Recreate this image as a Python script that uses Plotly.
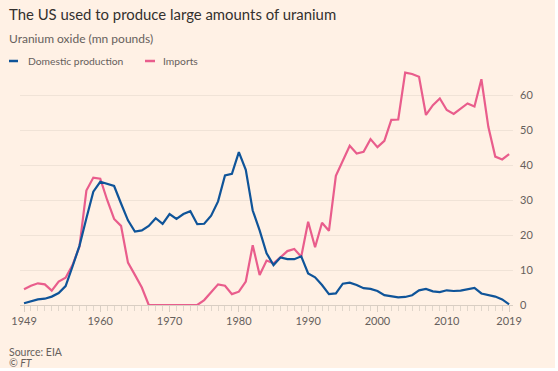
import plotly.graph_objects as go

years = list(range(1949, 2020))
domestic = [0.5, 1.0, 1.6, 1.8, 2.4, 3.4, 5.4, 11.0, 16.9, 24.8,
            32.4, 35.2, 34.7, 34.0, 29.0, 24.2, 21.0, 21.3, 22.6, 24.8,
            23.2, 26.0, 24.6, 26.0, 26.8, 23.1, 23.2, 25.5, 29.6, 37.0,
            37.5, 43.7, 38.6, 27.0, 21.3, 14.8, 11.4, 13.6, 13.1, 13.1,
            13.9, 9.0, 7.9, 5.7, 3.1, 3.3, 6.1, 6.4, 5.7, 4.8,
            4.6, 4.0, 2.8, 2.5, 2.2, 2.3, 2.8, 4.2, 4.6, 3.9,
            3.7, 4.2, 4.0, 4.1, 4.6, 4.9, 3.3, 2.9, 2.4, 1.6,
            0.2]
imports = [4.5, 5.5, 6.2, 5.9, 4.1, 6.7, 7.8, 11.4, 16.7, 32.7,
           36.4, 36.1, 30.0, 24.6, 22.6, 12.1, 8.6, 5.0, 0, 0,
           0, 0, 0, 0, 0, 0, 1.4, 3.8, 5.9, 5.5,
           3.1, 3.8, 6.7, 17.1, 8.6, 12.7, 11.9, 13.6, 15.4, 16.0,
           13.8, 23.8, 16.5, 23.5, 21.2, 36.9, 41.4, 45.5, 43.3, 43.8,
           47.4, 45.1, 46.9, 52.9, 53.0, 66.4, 66.0, 65.2, 54.3, 57.1,
           59.0, 55.7, 54.6, 56.2, 57.6, 56.7, 64.5, 50.9, 42.4, 41.6,
           43.1]
x_tickvals = [1949, 1960, 1970, 1980, 1990, 2000, 2010, 2019]
y_tickvals = [0, 10, 20, 30, 40, 50, 60]

BG = "#FFF1E5"
BLUE = "#0F5499"
PINK = "#E95D8C"
GREY = "#66605C"
FONT = "Lato"

W, H = 558, 371
L, R, T, B = 20, 45, 60, 66
pw, ph = W - L - R, H - T - B

def px(x):
    return (x - L) / pw

def py(y):
    return (H - B - y) / ph

fig = go.Figure()
fig.add_trace(go.Scatter(x=years, y=imports, mode="lines", name="Imports",
                         line=dict(color=PINK, width=2.2), showlegend=False))
fig.add_trace(go.Scatter(x=years, y=domestic, mode="lines", name="Domestic production",
                         line=dict(color=BLUE, width=2.2), showlegend=False))

annotations = [
    dict(text="The US used to produce large amounts of uranium", x=px(7), y=py(14),
         font=dict(size=14.9, color="#33302E", family=FONT)),
    dict(text="Uranium oxide (mn pounds)", x=px(7), y=py(38),
         font=dict(size=12, color=GREY, family=FONT)),
    dict(text="Domestic production", x=px(26), y=py(61),
         font=dict(size=10.3, color=GREY, family=FONT)),
    dict(text="Imports", x=px(161), y=py(61),
         font=dict(size=10.3, color=GREY, family=FONT)),
    dict(text="Source: EIA", x=px(7), y=py(352),
         font=dict(size=10.5, color=GREY, family=FONT)),
    dict(text="<i>© FT</i>", x=px(7), y=py(363),
         font=dict(size=10.5, color=GREY, family=FONT)),
]
for a in annotations:
    a.update(xref="paper", yref="paper", xanchor="left", yanchor="middle",
             showarrow=False)

shapes = [
    dict(type="line", xref="paper", yref="paper", x0=px(9), x1=px(18), y0=py(61), y1=py(61),
         line=dict(color=BLUE, width=2.5)),
    dict(type="line", xref="paper", yref="paper", x0=px(145), x1=px(155), y0=py(61), y1=py(61),
         line=dict(color=PINK, width=2.5)),
    dict(type="rect", xref="paper", yref="paper", x0=px(555), x1=px(560), y0=py(-2), y1=py(373),
         fillcolor="white", line=dict(width=0), layer="above"),
    dict(type="rect", xref="paper", yref="paper", x0=px(-2), x1=px(560), y0=py(368), y1=py(373),
         fillcolor="white", line=dict(width=0), layer="above"),
]

fig.update_layout(
    width=W, height=H,
    margin=dict(l=L, r=R, t=T, b=B, pad=0),
    paper_bgcolor=BG, plot_bgcolor=BG,
    font=dict(family=FONT, color=GREY, size=11),
    annotations=annotations, shapes=shapes,
    xaxis=dict(range=[1948.42, 2019.56], tickmode="array", tickvals=x_tickvals,
               ticktext=[str(v) for v in x_tickvals], showgrid=False, zeroline=False,
               showline=True, linecolor="#D9CEC3", linewidth=1,
               ticks="outside", ticklen=6, tickcolor="#D9CEC3",
               tickfont=dict(size=11, color=GREY, family=FONT),
               minor=dict(tickmode="linear", tick0=1949, dtick=1, ticks="outside",
                          ticklen=5, tickcolor="#E0D6CB", showgrid=False)),
    yaxis=dict(range=[0, 70], side="right", tickmode="array", tickvals=y_tickvals,
               showgrid=True, gridcolor="#F0E3D7", gridwidth=1, zeroline=False,
               showline=False, ticks="", ticklabelstandoff=6,
               tickfont=dict(size=11, color=GREY, family=FONT)),
)

fig.write_html("out.html", config={"displayModeBar": False},
               post_script="document.body.style.margin='0';document.body.style.padding='0';")
